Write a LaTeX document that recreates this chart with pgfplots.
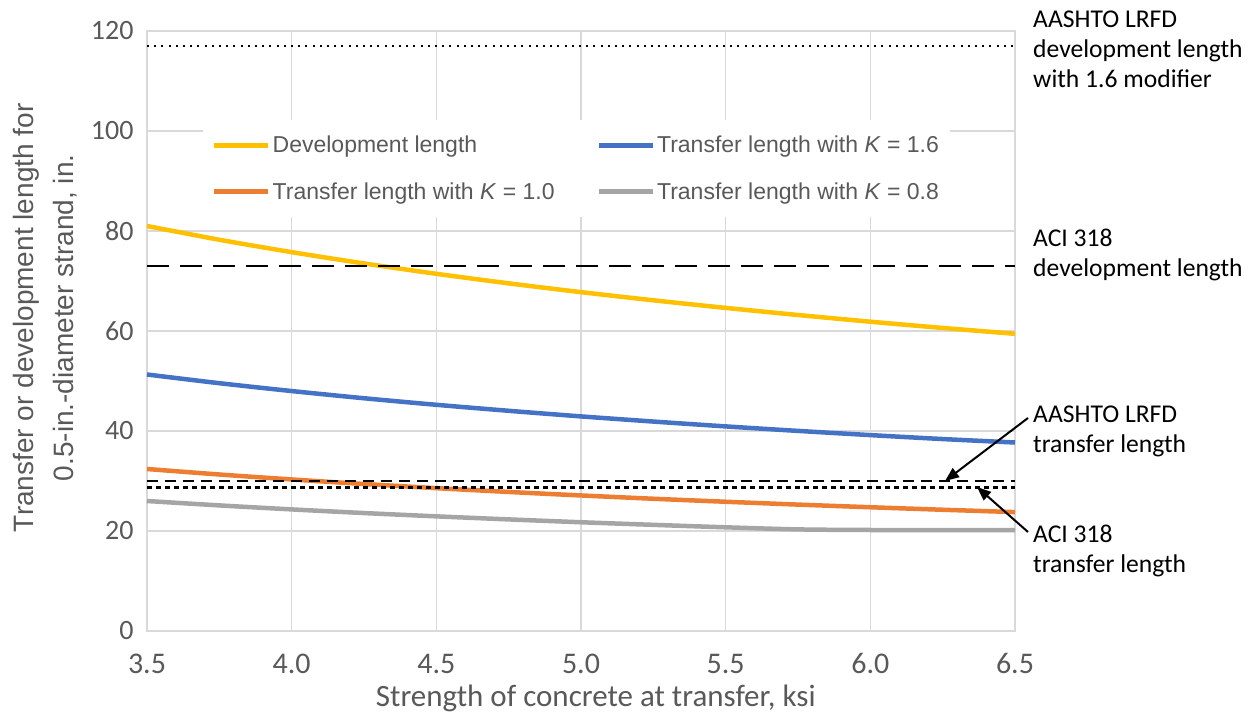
\documentclass[border=0pt]{standalone}
\usepackage{pgfplots}
\pgfplotsset{compat=1.18}
\usepackage{fontspec}
\setmainfont{Liberation Sans}
\newfontfamily\calibri{Carlito}
\usetikzlibrary{arrows.meta}
\definecolor{gridc}{HTML}{D9D9D9}
\definecolor{txtc}{HTML}{595959}
\definecolor{cyel}{HTML}{FFC000}
\definecolor{cblu}{HTML}{4472C4}
\definecolor{cora}{HTML}{ED7D31}
\definecolor{cgry}{HTML}{A5A5A5}
\begin{document}
\begin{tikzpicture}
\useasboundingbox (-147pt,-84pt) rectangle (1109pt,631pt);
\begin{axis}[
  scale only axis, width=868pt, height=600pt,
  at={(0pt,0pt)}, anchor=south west,
  xmin=3.5, xmax=6.5, ymin=0, ymax=120,
  xtick={3.5,4,4.5,5,5.5,6,6.5}, ytick={0,20,40,60,80,100,120},
  grid=major, major grid style={gridc, line width=1.5pt},
  axis line style={gridc, line width=1.5pt},
  major tick length=0pt,
  /pgf/number format/assume math mode=true,
  xticklabel style={font=\calibri\fontsize{30}{30}\selectfont, color=txtc, anchor=base, yshift=-42pt,
    /pgf/number format/.cd, fixed, fixed zerofill, precision=1},
  yticklabel style={font=\calibri\fontsize{28}{28}\selectfont, color=txtc, anchor=east, xshift=-10pt},
  xlabel={Strength of concrete at transfer, ksi},
  xlabel style={font=\calibri\fontsize{31}{31}\selectfont, color=txtc, at={(axis description cs:0.517,-0.125)}, anchor=base},
  ylabel={Transfer or development length for\\0.5-in.-diameter strand, in.},
  ylabel style={font=\fontsize{28}{40}\selectfont, color=txtc, align=center, at={(axis description cs:-0.1175,0.522)}, anchor=center},
  legend columns=2,
  legend cell align=left,
  legend image code/.code={\draw[#1] (0pt,0pt) -- (54pt,0pt);},
  legend style={at={(axis description cs:0.0645,0.8517)}, anchor=north west, fill=white, draw=none,
    font=\fontsize{23}{27}\selectfont, text=txtc, inner xsep=9pt, inner ysep=14pt, row sep=24pt,
    /tikz/every even column/.append style={column sep=40pt}},
]
\addplot[cyel, line width=4.5pt, smooth] coordinates {
(3.5,81.0) (3.75,78.25) (4.0,75.77) (4.25,73.51) (4.5,71.44) (4.75,69.53) (5.0,67.77)
(5.25,66.14) (5.5,64.62) (5.75,63.20) (6.0,61.86) (6.25,60.61) (6.5,59.44)};
\addlegendentry{Development length}
\addplot[cblu, line width=4.5pt, smooth] coordinates {
(3.5,51.3) (3.75,49.56) (4.0,47.99) (4.25,46.55) (4.5,45.24) (4.75,44.04) (5.0,42.92)
(5.25,41.89) (5.5,40.92) (5.75,40.02) (6.0,39.18) (6.25,38.39) (6.5,37.70)};
\addlegendentry{Transfer length with \textit{K} = 1.6}
\addplot[cora, line width=4.5pt, smooth] coordinates {
(3.5,32.4) (3.75,31.30) (4.0,30.31) (4.25,29.40) (4.5,28.57) (4.75,27.81) (5.0,27.11)
(5.25,26.45) (5.5,25.85) (5.75,25.28) (6.0,24.75) (6.25,24.25) (6.5,23.78)};
\addlegendentry{Transfer length with \textit{K} = 1.0}
\addplot[cgry, line width=4.5pt, smooth] coordinates {
(3.5,26.0) (3.75,25.12) (4.0,24.32) (4.25,23.59) (4.5,22.93) (4.75,22.32) (5.0,21.75)
(5.25,21.23) (5.5,20.74) (5.75,20.32) (6.0,20.2) (6.25,20.2) (6.5,20.2)};
\addlegendentry{Transfer length with \textit{K} = 0.8}
\addplot[black, line width=2.2pt, dash pattern=on 2pt off 5.2pt, forget plot] coordinates {(3.5,117) (6.5,117)};
\addplot[black, line width=2.4pt, dash pattern=on 22pt off 11pt, forget plot] coordinates {(3.5,73) (6.5,73)};
\addplot[black, line width=2.4pt, dash pattern=on 11pt off 7pt, forget plot] coordinates {(3.5,30) (6.5,30)};
\addplot[black, line width=2.4pt, dash pattern=on 5pt off 4pt, forget plot] coordinates {(3.5,28.7) (6.5,28.7)};
\end{axis}
\begin{scope}[every node/.style={font=\calibri\fontsize{25.6}{30}\selectfont, anchor=base west, inner sep=0pt, text=black}]
\node at (886pt,603pt) {AASHTO LRFD};
\node at (886pt,573pt) {development length};
\node at (886pt,543pt) {with 1.6 modifier};
\node at (886pt,384pt) {ACI 318};
\node at (886pt,354pt) {development length};
\node at (886pt,208pt) {AASHTO LRFD};
\node at (886pt,178pt) {transfer length};
\node at (886pt,88pt) {ACI 318};
\node at (886pt,58pt) {transfer length};
\end{scope}
\draw[black, line width=2pt, -{Triangle[length=14pt,width=11pt]}] (881pt,213pt) -- (798pt,150pt);
\draw[black, line width=2pt, -{Triangle[length=14pt,width=11pt]}] (881pt,99pt) -- (830pt,144pt);
\end{tikzpicture}
\end{document}
